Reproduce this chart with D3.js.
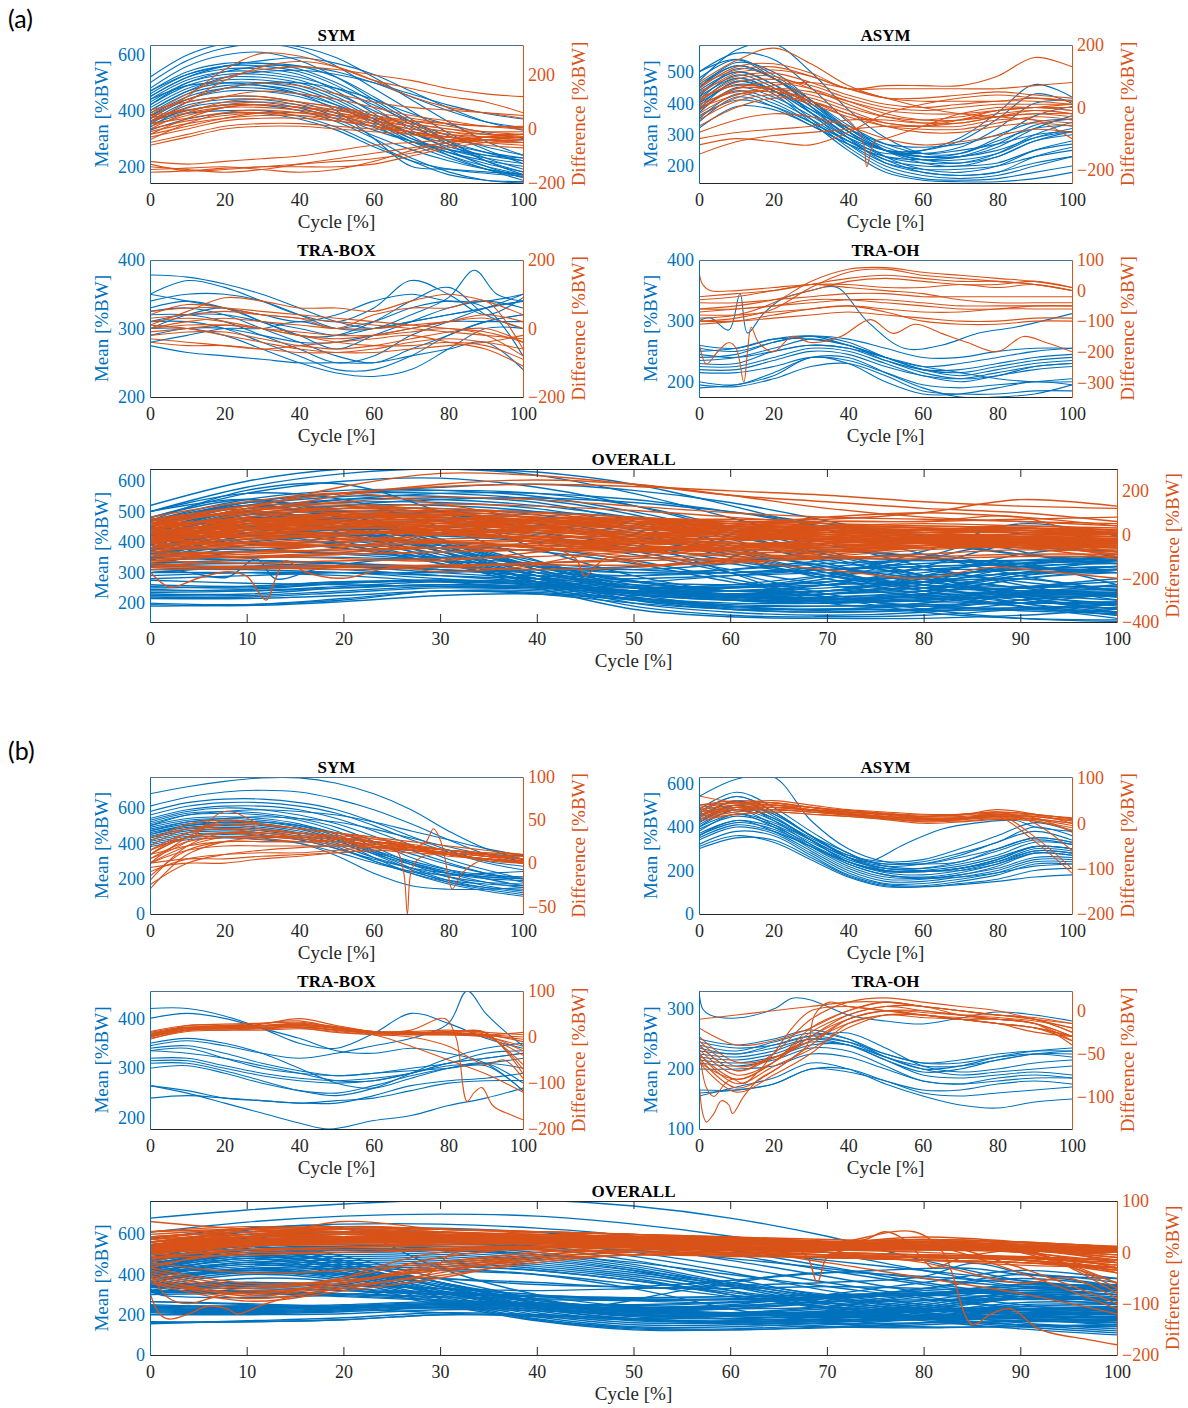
<!DOCTYPE html>
<html>
<head>
<meta charset="utf-8">
<script src="https://cdn.jsdelivr.net/npm/d3@7"></script>
<style>
  body { margin: 0; background: #fff; }
  svg { display: block; }
</style>
</head>
<body>
<svg id="fig" width="1188" height="1408"></svg>
<script>
// ---- data: curves sampled at cycle = 0,10,...,100 (or [x,y] pairs where a curve has sharp detail)
const cycle = [0, 10, 20, 30, 40, 50, 60, 70, 80, 90, 100];

// (a) SYM
const aSymMean = [
  [520,600,640,640,630,590,520,440,360,290,240],
  [500,580,625,640,620,560,480,400,320,260,210],
  [480,560,600,610,580,520,440,360,290,230,190],
  [470,540,570,570,550,500,430,350,280,220,180],
  [460,530,560,560,540,490,410,330,260,200,160],
  [450,520,550,550,530,470,390,310,240,190,150],
  [440,510,540,540,520,480,420,360,310,270,240],
  [430,500,530,530,510,460,400,340,290,250,220],
  [420,490,520,520,500,450,380,320,270,240,220],
  [410,480,510,510,490,440,370,300,250,210,180],
  [400,470,500,500,480,430,360,290,240,200,170],
  [390,460,490,490,470,420,350,280,230,190,160],
  [380,450,480,480,460,420,370,320,280,250,230],
  [370,440,470,470,450,410,360,300,260,230,210],
  [360,430,450,450,430,390,340,290,250,220,200],
  [350,420,440,440,420,380,330,290,260,240,230],
  [340,410,430,430,410,370,310,260,220,190,170],
  [420,500,540,560,560,540,500,450,400,360,340],
  [400,470,520,540,545,530,500,460,420,390,370],
  [380,440,480,500,500,480,440,390,350,320,300],
  [450,520,560,580,590,570,530,470,410,360,330],
  [470,530,560,570,560,520,450,370,290,220,170],
  [440,490,500,490,460,400,300,200,190,180,170],
  [360,400,420,420,400,360,300,230,180,150,140],
  [350,390,400,400,380,340,280,220,170,150,145],
  [330,370,390,390,370,330,270,220,190,175,165]
];
const aSymDiff = [
  [40,120,220,280,270,230,180,150,120,100,60],
  [20,100,180,230,250,230,180,120,80,60,40],
  [60,110,150,170,160,130,100,80,70,60,50],
  [30,80,120,140,130,110,80,50,30,10,0],
  [0,60,100,110,100,80,50,20,0,-20,-30],
  [-20,40,80,90,80,60,30,0,-20,-30,-40],
  [-40,20,60,70,60,40,10,-20,-40,-50,-50],
  [10,50,80,90,80,70,50,30,10,-10,-20],
  [50,70,90,100,90,70,40,10,-10,-30,-30],
  [-10,20,40,50,50,40,20,0,-20,-40,-40],
  [20,40,60,60,50,30,10,-10,-30,-40,-50],
  [-30,0,30,40,40,30,10,-10,-30,-50,-60],
  [-50,-20,10,20,20,10,0,-10,-30,-40,-50],
  [70,100,120,120,100,80,60,40,20,10,10],
  [40,70,90,90,80,60,40,20,0,-10,-10],
  [-60,-30,0,10,10,0,-10,-20,-30,-40,-40],
  [30,60,80,80,70,50,20,-10,-40,-60,-70],
  [0,30,50,60,60,50,40,30,20,10,5],
  [50,130,190,220,230,220,200,180,150,130,120],
  [-20,10,40,60,60,50,30,10,-10,-20,-20],
  [-130,-155,-150,-140,-140,-140,-130,-100,-70,-50,-40],
  [-140,-150,-160,-150,-130,-110,-90,-70,-50,-40,-30],
  [-160,-155,-145,-140,-130,-120,-110,-90,-60,-40,-30],
  [-120,-130,-120,-110,-100,-80,-60,-50,-40,-30,-20],
  [-150,-145,-140,-150,-160,-150,-120,-80,-50,-30,-20]
];

// (a) ASYM
const aAsymMean = [
  [470,570,590,500,380,290,240,240,280,320,330],
  [500,560,540,450,340,250,210,200,230,280,300],
  [450,530,500,410,310,230,190,180,200,250,280],
  [420,510,480,390,290,210,180,170,180,230,260],
  [430,500,460,370,270,200,170,160,170,200,230],
  [400,480,440,350,260,190,160,155,160,180,200],
  [380,470,430,340,250,180,155,150,150,160,180],
  [460,520,480,400,310,250,220,210,240,300,340],
  [440,500,460,390,310,250,230,230,260,320,360],
  [410,490,450,380,300,250,230,240,290,360,390],
  [390,470,440,370,300,250,240,260,320,400,410],
  [370,450,420,360,290,250,250,280,350,430,400],
  [350,430,400,340,280,240,250,290,370,460,420],
  [340,420,390,330,270,230,220,230,270,330,350],
  [420,480,440,370,290,230,210,210,230,280,310],
  [480,540,490,410,320,250,220,220,240,290,320],
  [360,410,390,340,280,220,200,200,210,250,270],
  [320,390,380,330,270,210,190,190,200,230,250],
  [450,520,480,410,330,270,240,250,270,300,310],
  [400,460,440,380,320,270,260,270,300,340,350],
  [500,540,480,400,320,260,230,230,250,290,310],
  [380,440,410,350,280,220,180,170,180,210,230]
];
const aAsymDiff = [
  [80,150,190,140,70,30,20,20,20,30,20],
  [60,130,140,110,60,70,70,70,100,160,130],
  [40,110,120,100,60,60,60,60,60,70,80],
  [20,80,90,70,30,0,-10,0,10,10,10],
  [0,60,60,40,0,-30,-40,-30,-10,0,-10],
  [-20,40,50,20,-20,-50,-60,-50,-30,-10,-20],
  [-40,20,40,10,-30,-60,-70,-70,-50,-30,-40],
  [-60,0,30,20,-20,-60,-80,-80,-60,-50,-60],
  [-100,-80,-70,-60,-40,-40,-50,-40,-30,-20,-20],
  [-150,-110,-90,-80,-70,-60,-60,-40,-10,0,-10],
  [-80,-40,-20,-30,-60,-100,-120,-110,-90,-70,-80],
  [[0,30],[10,70],[20,60],[30,20],[40,-40],[44,-110],[45,-190],[47,-110],[50,-100],[60,-60],[70,-20],[80,0],[90,0],[100,0]],
  [10,50,50,30,-10,-50,-60,-60,-40,-40,-100],
  [50,100,110,80,40,10,0,10,20,20,10],
  [-30,30,60,50,20,-10,-20,-20,-10,0,10],
  [-10,60,80,60,20,-20,-40,-40,-20,-10,-20],
  [70,120,130,100,60,30,30,40,50,40,30],
  [-120,-100,-110,-120,-80,-20,10,30,40,30,20],
  [0,40,70,80,60,30,0,-20,-30,-40,-50],
  [20,90,100,60,10,-30,-50,-50,-30,-20,-30]
];

// (a) TRA-BOX
const aBoxMean = [
  [378,375,365,350,330,310,300,310,320,330,340],
  [350,370,360,340,320,310,330,370,350,320,345],
  [[0,340],[10,350],[20,350],[30,340],[40,320],[50,300],[60,300],[70,320],[80,345],[87,385],[93,350],[100,340]],
  [330,340,330,310,290,270,290,310,330,340,330],
  [320,320,310,290,270,250,260,290,310,330,340],
  [310,310,300,280,260,240,240,260,290,310,320],
  [300,300,290,270,250,235,230,240,270,300,300],
  [290,300,300,290,280,280,290,300,310,310,310],
  [280,290,300,300,310,300,310,330,340,330,260],
  [275,265,260,255,250,250,250,260,270,280,240],
  [310,320,320,310,300,290,300,310,320,330,350],
  [300,320,330,310,290,290,310,340,360,320,300],
  [350,340,330,320,310,320,340,350,340,340,350],
  [325,330,320,300,280,260,250,270,290,310,320]
];
const aBoxDiff = [
  [10,50,90,80,60,60,50,80,100,80,40],
  [30,40,50,40,30,20,10,0,-10,-20,-30],
  [0,20,30,20,10,0,0,10,20,30,0],
  [-10,0,10,0,-20,-30,-20,0,20,40,20],
  [-20,-10,-10,-30,-50,-60,-50,-30,-10,0,-40],
  [-40,-50,-50,-60,-70,-70,-60,-40,-30,-40,-60],
  [20,30,20,0,-20,-40,-50,-50,-40,-50,-90],
  [40,70,60,40,30,0,40,60,60,80,-60],
  [0,10,10,0,-10,-20,-20,-10,0,-20,-80],
  [-30,-40,-50,-60,-50,-40,-30,-20,-40,-60,-110],
  [10,0,-20,-40,-60,-70,-70,-60,-50,-40,-20],
  [50,60,60,50,40,30,20,10,0,-10,-40]
];

// (a) TRA-OH
const aOhMean = [
  [[0,300],[3,305],[8,285],[11,345],[13,280],[17,310],[22,335],[30,350],[37,355],[45,300],[55,255],[65,260],[75,280],[85,290],[100,312]],
  [250,255,270,270,260,240,220,215,225,235,240],
  [240,245,265,275,265,240,220,210,220,230,235],
  [235,240,255,270,260,235,215,205,210,225,230],
  [230,230,250,260,255,235,220,220,230,240,245],
  [225,225,240,255,250,230,210,200,210,220,225],
  [220,220,235,250,245,225,210,205,215,225,230],
  [255,250,265,275,270,255,240,240,250,255,255],
  [245,240,250,260,255,240,225,215,205,200,200],
  [215,215,225,240,235,215,195,190,195,200,205],
  [195,192,205,225,230,210,185,180,180,185,185],
  [200,195,215,240,240,215,190,175,175,180,195],
  [260,255,270,275,260,240,225,230,240,250,255],
  [190,195,210,240,230,200,180,180,190,200,195]
];
const aOhDiff = [
  [-100,-90,-60,10,60,70,50,40,30,20,0],
  [-90,-80,-40,30,70,75,60,50,40,30,10],
  [-60,-50,-30,0,30,40,30,20,20,30,10],
  [-20,-10,0,20,40,50,40,30,30,20,0],
  [[0,60],[1,20],[3,0],[10,0],[20,10],[30,20],[40,20],[50,10],[60,10],[70,20],[80,10],[90,20],[100,0]],
  [-40,-40,-30,-20,-10,-10,-20,-20,-20,-20,-20],
  [-60,-60,-50,-40,-30,-30,-40,-50,-50,-50,-50],
  [-80,-80,-70,-60,-50,-60,-70,-70,-60,-60,-60],
  [-100,-100,-90,-80,-70,-80,-90,-100,-100,-90,-90],
  [-70,-60,-50,-30,-30,-40,-50,-60,-60,-50,-50],
  [-30,-20,0,20,10,0,-10,-30,-40,-40,-40],
  [-110,-100,-80,-60,-50,-70,-100,-110,-110,-100,-100],
  [[0,-170],[2,-240],[5,-200],[8,-170],[10,-190],[12,-300],[13,-200],[14,-120],[16,-170],[20,-200],[25,-150],[30,-170],[38,-150],[46,-95],[52,-140],[58,-110],[65,-140],[72,-170],[80,-200],[87,-150],[93,-170],[100,-200]]
];

// (b) SYM
const bSymMean = [
  [680,720,750,770,770,740,680,590,470,370,310],
  [610,660,690,700,690,650,590,510,420,340,300],
  [580,630,650,650,630,590,520,440,360,300,270],
  [560,610,630,630,610,570,500,420,350,290,250],
  [540,590,610,610,590,540,470,390,310,250,200],
  [530,580,600,590,560,510,440,360,290,230,180],
  [520,570,580,570,540,490,410,320,250,200,160],
  [510,560,570,560,530,470,380,290,230,180,150],
  [500,540,550,540,510,450,360,280,210,160,130],
  [490,530,540,530,500,440,350,260,190,150,120],
  [480,520,530,520,490,430,340,250,180,140,110],
  [470,510,520,510,480,420,320,230,170,130,100],
  [460,500,510,500,470,420,360,300,250,220,210],
  [450,490,500,490,460,410,350,290,240,210,200],
  [440,480,490,480,450,400,340,280,230,200,190],
  [430,470,480,470,440,390,320,260,210,180,170],
  [420,460,470,460,430,380,300,240,190,170,160],
  [400,440,450,440,420,370,310,260,230,210,200],
  [390,430,440,430,400,330,230,160,140,140,150],
  [380,420,430,420,400,350,290,240,220,230,240],
  [500,560,580,590,580,560,520,470,420,370,330],
  [470,520,540,550,540,520,480,430,380,340,330],
  [450,500,520,520,500,460,400,340,280,230,200],
  [410,450,460,450,420,370,300,230,180,150,140]
];
const bSymDiff = [
  [0,30,50,45,40,35,30,20,10,5,0],
  [10,35,45,40,35,30,25,20,15,10,5],
  [20,40,40,35,35,30,25,18,12,8,5],
  [-20,20,35,35,30,28,25,20,15,10,5],
  [-30,10,25,30,30,28,25,20,15,10,8],
  [5,25,30,30,28,25,22,18,12,8,0],
  [15,30,35,32,30,28,20,15,10,5,0],
  [-10,5,10,12,12,15,18,15,10,5,0],
  [0,5,5,8,10,12,15,12,10,5,3],
  [-5,0,0,5,8,12,15,15,12,8,5],
  [10,20,25,25,25,25,22,18,15,12,10],
  [25,45,50,45,40,35,28,22,15,10,5],
  [30,40,45,45,40,35,30,25,20,15,10],
  [-15,15,25,25,25,25,20,15,10,5,0],
  [0,15,20,20,20,20,18,15,12,10,8],
  [5,25,60,45,40,35,25,18,10,5,2],
  [15,35,40,38,35,32,28,20,10,3,0],
  [-25,0,10,15,18,20,20,16,12,8,5],
  [10,30,35,35,32,30,25,20,15,12,10],
  [0,20,30,30,30,28,24,20,15,10,5],
  [[0,10],[10,30],[20,30],[30,28],[40,25],[50,22],[60,18],[66,15],[68,-10],[69,-59],[70,-10],[72,5],[76,10],[80,8],[90,5],[100,2]],
  [[0,15],[10,30],[20,35],[30,32],[40,28],[50,25],[60,22],[70,18],[74,25],[76,40],[78,25],[80,-15],[81,-30],[84,-10],[90,5],[100,5]]
];

// (b) ASYM
const bAsymMean = [
  [540,620,630,430,300,240,230,240,300,350,330],
  [480,560,490,380,280,220,210,230,270,330,320],
  [460,540,470,360,260,200,195,210,250,310,300],
  [440,520,450,340,240,190,180,200,240,300,290],
  [420,500,430,320,230,180,170,190,230,290,280],
  [400,480,410,310,220,170,165,180,220,280,270],
  [380,460,400,300,210,160,160,180,210,260,260],
  [360,430,380,290,200,150,150,170,200,250,250],
  [340,400,370,280,190,140,140,160,190,240,240],
  [320,380,360,270,180,135,130,150,180,230,230],
  [300,350,340,260,175,130,125,140,160,200,210],
  [310,360,330,250,170,125,125,135,150,170,180],
  [450,520,460,360,270,230,240,280,330,400,360],
  [430,500,440,350,270,240,250,300,360,420,380],
  [410,480,430,340,260,220,230,270,330,380,340],
  [390,450,410,330,250,210,210,240,290,340,320],
  [370,430,400,320,240,200,200,220,260,310,300],
  [350,410,380,310,240,200,195,210,240,290,280],
  [470,540,470,360,260,210,200,200,230,280,270],
  [420,490,440,340,240,195,195,210,250,310,300],
  [400,460,420,340,260,230,230,260,300,350,330],
  [360,420,390,310,230,180,165,170,190,220,230],
  [[0,450],[10,500],[20,460],[30,360],[40,280],[45,240],[55,320],[65,390],[75,420],[85,430],[90,400],[100,380]]
];
const bAsymDiff = [
  [60,45,40,30,25,20,15,20,25,20,10],
  [40,45,45,35,25,20,15,15,20,15,5],
  [30,40,45,35,25,18,12,12,18,15,5],
  [20,35,40,30,22,15,10,10,15,10,0],
  [15,30,35,28,20,12,5,8,12,8,-5],
  [10,25,30,25,18,10,3,5,10,5,-10],
  [25,35,35,28,20,15,10,12,15,10,0],
  [35,45,50,40,30,25,20,20,25,20,10],
  [5,20,25,20,15,8,0,3,8,5,-15],
  [20,30,30,25,18,12,8,10,14,12,-20],
  [30,40,40,35,28,22,18,18,30,20,0],
  [15,25,30,25,20,15,10,10,15,-40,-110],
  [25,35,35,30,22,15,8,8,20,-30,-100],
  [10,20,25,20,15,10,5,8,25,0,-60],
  [40,50,45,35,28,22,15,18,22,18,12],
  [20,30,35,30,25,20,12,12,18,15,8]
];

// (b) TRA-BOX
const bBoxMean = [
  [420,420,405,380,350,340,370,410,390,360,340],
  [400,410,400,380,360,335,330,340,330,310,255],
  [[0,345],[10,355],[20,345],[30,330],[40,320],[50,330],[60,345],[70,360],[80,390],[85,455],[90,410],[95,375],[100,345]],
  [340,345,330,310,295,285,290,300,310,330,335],
  [335,330,320,305,290,275,275,290,310,320,330],
  [320,320,305,290,280,275,280,290,310,320,330],
  [315,315,300,285,275,270,275,290,305,310,320],
  [310,310,295,275,255,245,260,290,320,340,350],
  [300,305,290,270,255,250,265,285,300,310,300],
  [265,255,240,235,230,230,245,265,275,280,290],
  [240,245,240,235,230,235,240,255,270,275,275],
  [[0,265],[10,250],[20,230],[30,210],[40,190],[48,178],[60,195],[70,205],[80,225],[90,240],[100,260]],
  [335,340,320,300,290,285,290,295,300,305,255],
  [350,360,350,330,300,270,260,280,300,310,270]
];
const bBoxDiff = [
  [0,25,25,30,35,20,10,10,10,5,0],
  [5,20,22,28,40,25,12,10,8,5,-10],
  [10,22,20,25,30,22,10,8,5,0,-20],
  [-5,15,18,20,25,18,8,5,5,0,-40],
  [0,18,20,22,28,20,10,8,10,5,-60],
  [8,20,25,25,28,20,12,10,12,8,-70],
  [3,15,15,18,20,15,8,5,5,3,-5],
  [12,25,28,30,32,22,12,12,15,10,5],
  [-3,12,15,15,18,12,5,5,5,2,-30],
  [5,18,20,20,22,15,8,8,8,5,10],
  [0,15,18,20,22,15,5,-20,-50,-80,-120],
  [6,20,22,24,26,18,10,8,10,10,-80],
  [[0,0],[10,20],[20,20],[30,25],[40,25],[50,15],[60,10],[70,15],[79,40],[82,0],[85,-140],[87,-120],[89,-110],[92,-150],[97,-170],[100,-180]],
  [[0,5],[10,20],[20,22],[30,25],[40,20],[50,10],[60,5],[70,0],[80,-20],[90,-60],[95,-50],[100,-90]]
];

// (b) TRA-OH
const bOhMean = [
  [[0,330],[1,300],[3,290],[10,285],[20,300],[25,318],[30,315],[40,290],[50,280],[60,275],[70,285],[80,295],[90,290],[100,280]],
  [250,240,250,265,250,220,200,205,220,230,235],
  [240,230,245,260,250,225,210,215,225,230,230],
  [235,225,240,255,245,220,205,205,215,225,230],
  [230,225,235,250,240,215,195,200,215,225,225],
  [225,220,230,250,245,225,210,210,220,225,220],
  [220,215,225,245,240,220,200,190,195,200,205],
  [215,210,220,240,240,215,190,185,190,195,190],
  [210,205,215,235,230,205,180,175,180,185,185],
  [200,200,205,225,220,200,180,175,185,190,185],
  [160,165,175,200,195,180,160,155,160,165,170],
  [165,165,175,200,200,180,165,165,175,180,175],
  [155,170,185,210,200,175,155,140,135,145,150],
  [245,235,240,255,260,235,205,195,200,210,215]
];
const bOhDiff = [
  [-40,-70,-50,-10,10,15,10,5,0,-10,-20],
  [-50,-80,-60,-20,0,10,5,0,-5,-10,-25],
  [-60,-80,-60,-25,-5,5,5,-5,-10,-15,-30],
  [-45,-75,-60,-30,-10,0,0,-5,-10,-15,-35],
  [-30,-60,-55,-30,-5,5,0,-5,-8,-12,-20],
  [-10,-5,0,5,10,10,5,0,-5,-10,-15],
  [-55,-90,-70,-40,-10,0,-5,-10,-15,-20,-30],
  [-35,-65,-55,-35,-15,-5,-5,-10,-15,-20,-30],
  [-50,-85,-65,-45,-20,-5,-5,-10,-10,-15,-40],
  [-40,-70,-55,-35,-10,0,-2,-5,-5,-10,-25],
  [-60,-95,-75,-50,-15,-5,-8,-10,-15,-20,-35],
  [-20,-40,-35,-20,0,10,5,0,-5,-8,-15],
  [[0,-80],[1,-120],[2,-130],[4,-120],[6,-105],[8,-110],[9,-120],[12,-100],[16,-80],[20,-70],[25,-55],[29,-40],[31,-5],[35,10],[40,5],[50,0],[60,-5],[70,-10],[80,-15],[90,-25],[100,-30]],
  [[0,-40],[2,-90],[4,-100],[7,-85],[9,-80],[12,-85],[15,-75],[20,-50],[25,-20],[30,0],[40,5],[50,0],[60,-5],[70,-8],[80,-10],[90,-15],[100,-30]]
];

// tick values on the cycle axis
const cycleTicksSmall = [0, 20, 40, 60, 80, 100];
const cycleTicksAll = [0, 10, 20, 30, 40, 50, 60, 70, 80, 90, 100];

const BLUE = "#0072BD", ORANGE = "#D95319", INK = "#262626";
const SERIF = "'Liberation Serif', 'Times New Roman', Times, serif";
const svg = d3.select("#fig");

function toPoints(c) {
  return typeof c[0] === "number" ? c.map((v, i) => [cycle[i], v]) : c;
}

let clipCount = 0;
function drawPanel(p) {
  const x  = d3.scaleLinear().domain([0, 100]).range([p.x0, p.x1]);
  const yM = d3.scaleLinear().domain(p.meanDom).range([p.y1, p.y0]);
  const yD = d3.scaleLinear().domain(p.diffDom).range([p.y1, p.y0]);
  const id = "clip" + (clipCount++);

  svg.append("clipPath").attr("id", id).append("rect")
    .attr("x", p.x0).attr("y", p.y0)
    .attr("width", p.x1 - p.x0).attr("height", p.y1 - p.y0);

  const plot = svg.append("g").attr("clip-path", `url(#${id})`);
  const curve = d3.curveCatmullRom.alpha(0.5);
  const lineM = d3.line().x(d => x(d[0])).y(d => yM(d[1])).curve(curve);
  const lineD = d3.line().x(d => x(d[0])).y(d => yD(d[1])).curve(curve);
  const sw = p.big ? 1.4 : 1.1;

  plot.selectAll(null).data(p.mean).join("path")
    .attr("d", c => lineM(toPoints(c)))
    .attr("fill", "none").attr("stroke", BLUE).attr("stroke-width", sw);
  plot.selectAll(null).data(p.diff).join("path")
    .attr("d", c => lineD(toPoints(c)))
    .attr("fill", "none").attr("stroke", ORANGE).attr("stroke-width", sw);

  const tick = p.big ? -8 : 0;
  const xTicks = p.big ? cycleTicksAll : cycleTicksSmall;

  const gx = svg.append("g").attr("transform", `translate(0,${p.y1})`)
    .call(d3.axisBottom(x).tickValues(xTicks).tickSizeInner(tick).tickSizeOuter(0).tickPadding(10));
  const gt = svg.append("g").attr("transform", `translate(0,${p.y0})`)
    .call(d3.axisTop(x).tickValues(p.big ? xTicks : []).tickSizeInner(tick).tickSizeOuter(0).tickFormat(""));
  const gl = svg.append("g").attr("transform", `translate(${p.x0},0)`)
    .call(d3.axisLeft(yM).tickValues(p.meanTicks).tickSize(0).tickPadding(5));
  const gr = svg.append("g").attr("transform", `translate(${p.x1},0)`)
    .call(d3.axisRight(yD).tickValues(p.diffTicks).tickSize(0).tickPadding(5));

  [[gx, INK], [gt, p.big ? INK : "#4f6f8f"], [gl, BLUE], [gr, ORANGE]].forEach(([g, col]) => {
    g.attr("font-family", null).attr("font-size", null);
    g.selectAll("path, line").attr("stroke", col).attr("stroke-width", 1);
    g.selectAll("text").attr("fill", col).style("font-family", SERIF).style("font-size", "18px");
  });

  const cy = (p.y0 + p.y1) / 2;
  const label = (sel) => sel.style("font-family", SERIF);
  label(svg.append("text")).attr("x", (p.x0 + p.x1) / 2).attr("y", p.y0 - 4)
    .attr("text-anchor", "middle").attr("font-weight", "bold").style("font-size", "17px")
    .attr("fill", "#000").text(p.title);
  label(svg.append("text")).attr("x", (p.x0 + p.x1) / 2).attr("y", p.y1 + 45)
    .attr("text-anchor", "middle").style("font-size", "19px").attr("fill", INK).text("Cycle [%]");
  label(svg.append("text")).attr("transform", `translate(${p.x0 - 42},${cy}) rotate(-90)`)
    .attr("text-anchor", "middle").style("font-size", "19px").attr("fill", BLUE).text("Mean [%BW]");
  label(svg.append("text")).attr("transform", `translate(${p.x1 + 62},${cy}) rotate(-90)`)
    .attr("text-anchor", "middle").style("font-size", "19px").attr("fill", ORANGE).text("Difference [%BW]");
}

const panels = [
  // (a)
  { title: "SYM", x0: 150, x1: 523, y0: 45, y1: 183, meanDom: [140, 636], diffDom: [-200, 311],
    meanTicks: [200, 400, 600], diffTicks: [-200, 0, 200], mean: aSymMean, diff: aSymDiff },
  { title: "ASYM", x0: 699, x1: 1072, y0: 45, y1: 183, meanDom: [146, 586], diffDom: [-242, 200],
    meanTicks: [200, 300, 400, 500], diffTicks: [-200, 0, 200], mean: aAsymMean, diff: aAsymDiff },
  { title: "TRA-BOX", x0: 150, x1: 523, y0: 260, y1: 397, meanDom: [200, 400], diffDom: [-200, 200],
    meanTicks: [200, 300, 400], diffTicks: [-200, 0, 200], mean: aBoxMean, diff: aBoxDiff },
  { title: "TRA-OH", x0: 699, x1: 1072, y0: 260, y1: 397, meanDom: [175, 400], diffDom: [-348, 100],
    meanTicks: [200, 300, 400], diffTicks: [-300, -200, -100, 0, 100], mean: aOhMean, diff: aOhDiff },
  { title: "OVERALL", big: true, x0: 150, x1: 1117, y0: 469, y1: 622, meanDom: [138, 640], diffDom: [-400, 300],
    meanTicks: [200, 300, 400, 500, 600], diffTicks: [-400, -200, 0, 200],
    mean: [...aSymMean, ...aAsymMean, ...aBoxMean, ...aOhMean],
    diff: [...aSymDiff, ...aAsymDiff, ...aBoxDiff, ...aOhDiff] },
  // (b)
  { title: "SYM", x0: 150, x1: 523, y0: 777, y1: 914, meanDom: [0, 775], diffDom: [-59, 100],
    meanTicks: [0, 200, 400, 600], diffTicks: [-50, 0, 50, 100], mean: bSymMean, diff: bSymDiff },
  { title: "ASYM", x0: 699, x1: 1072, y0: 777, y1: 914, meanDom: [0, 630], diffDom: [-200, 102],
    meanTicks: [0, 200, 400, 600], diffTicks: [-200, -100, 0, 100], mean: bAsymMean, diff: bAsymDiff },
  { title: "TRA-BOX", x0: 150, x1: 523, y0: 991, y1: 1129, meanDom: [178, 455], diffDom: [-200, 100],
    meanTicks: [200, 300, 400], diffTicks: [-200, -100, 0, 100], mean: bBoxMean, diff: bBoxDiff },
  { title: "TRA-OH", x0: 699, x1: 1072, y0: 991, y1: 1129, meanDom: [100, 330], diffDom: [-138, 23],
    meanTicks: [100, 200, 300], diffTicks: [-100, -50, 0], mean: bOhMean, diff: bOhDiff },
  { title: "OVERALL", big: true, x0: 150, x1: 1117, y0: 1201, y1: 1355, meanDom: [0, 765], diffDom: [-200, 100],
    meanTicks: [0, 200, 400, 600], diffTicks: [-200, -100, 0, 100],
    mean: [...bSymMean, ...bAsymMean, ...bBoxMean, ...bOhMean],
    diff: [...bSymDiff, ...bAsymDiff, ...bBoxDiff, ...bOhDiff] }
];

panels.forEach(drawPanel);

// figure part labels
svg.append("text").attr("x", 8).attr("y", 28).style("font-size", "25px")
  .style("font-family", "Lato, 'Open Sans', sans-serif").attr("fill", "#000").text("(a)");
svg.append("text").attr("x", 8).attr("y", 760).style("font-size", "25px")
  .style("font-family", "Lato, 'Open Sans', sans-serif").attr("fill", "#000").text("(b)");
</script>
</body>
</html>
